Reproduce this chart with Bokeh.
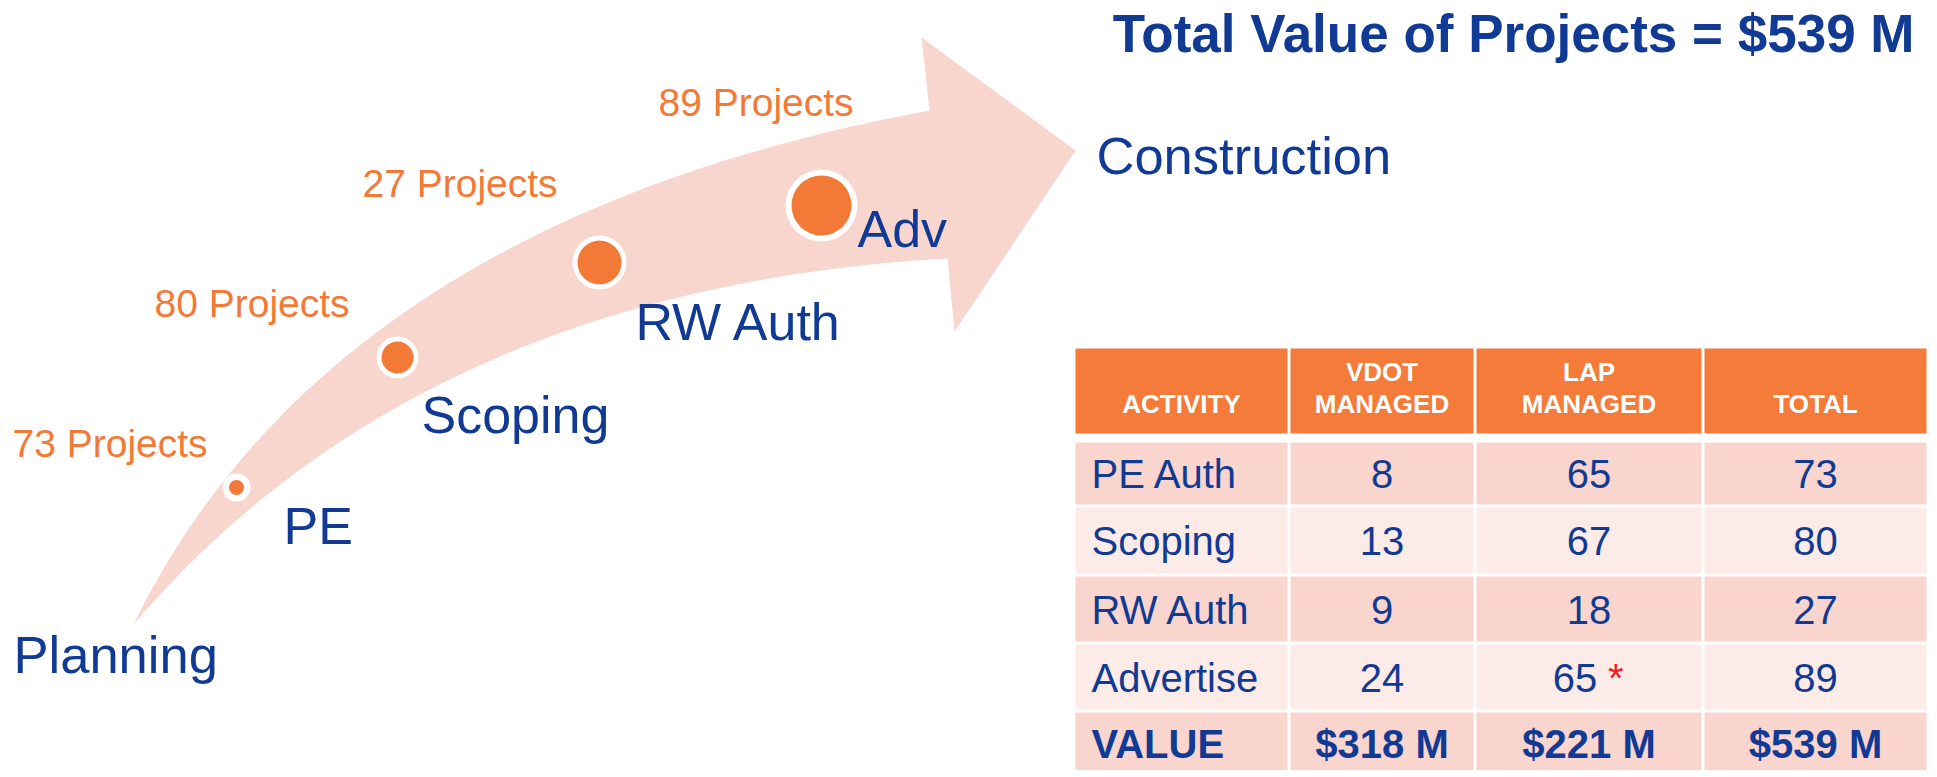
import numpy as np
from bokeh.plotting import figure
from bokeh.models import Range1d
from bokeh.core.properties import value
from bokeh.embed import file_html
from bokeh.resources import INLINE

# ---------------- data ----------------
stages = ["PE", "Scoping", "RW Auth", "Adv"]
stage_projects = [73, 80, 27, 89]
start_label = "Planning"
end_label = "Construction"

activities = ["PE Auth", "Scoping", "RW Auth", "Advertise"]
vdot_managed = [8, 13, 9, 24]
lap_managed = [65, 67, 18, 65]
total_projects = [73, 80, 27, 89]
lap_footnote = [False, False, False, True]
value_row_label = "VALUE"
values_m = [318, 221, 539]          # VDOT, LAP, TOTAL  ($ millions)
header_lines = [["ACTIVITY"], ["VDOT", "MANAGED"], ["LAP", "MANAGED"], ["TOTAL"]]

# ---------------- style / layout ----------------
BLUE = "#113A94"
ORANGE = "#F27A36"
ARROW = "#F9D6CD"
HEAD = "#F47B3A"
DARK = "#F9D5CD"
LIGHT = "#FCEBE7"
RED = "#EE1C24"
FONT = value("Liberation Sans")

W, H = 1930, 770
p = figure(width=W, height=H, x_range=Range1d(0, W), y_range=Range1d(H, 0),
           output_backend="svg", toolbar_location=None, min_border=0,
           x_axis_location=None, y_axis_location=None, background_fill_color="white",
           border_fill_color="white")
p.grid.visible = False
p.outline_line_color = None


def qbez(p0, p1, p2, n=90):
    t = np.linspace(0, 1, n)[:, None]
    return (1 - t) ** 2 * np.array(p0) + 2 * (1 - t) * t * np.array(p1) + t ** 2 * np.array(p2)


# ---------------- arrow ----------------
upper = qbez((133, 624), (330, 221), (929, 110))
lower = qbez((133, 624), (420, 288), (947, 258))
head_x = [921, 1075, 954]
head_y = [37, 150, 331]
ax = list(upper[:, 0]) + head_x + list(lower[::-1, 0])
ay = list(upper[:, 1]) + head_y + list(lower[::-1, 1])
p.patch(ax, ay, fill_color=ARROW, line_color=None)

# stage markers
circle_x = [236, 397, 599, 821]
circle_y = [487, 357, 262, 205]
ring_r = [14, 21, 27, 36]
dot_r = [7.5, 16, 22, 30]
p.circle(x=circle_x, y=circle_y, radius=ring_r, fill_color="white", line_color=None)
p.circle(x=circle_x, y=circle_y, radius=dot_r, fill_color=ORANGE, line_color=None)

stage_lx = [283, 421, 635, 857]
stage_ly = [525, 414, 321, 228]
p.text(x=stage_lx, y=stage_ly, text=stages, text_font=FONT, text_font_size="52px",
       text_color=BLUE, text_baseline="middle", text_align="left")

proj_lx = [12, 154, 362, 658]
proj_ly = [443, 303, 183, 102]
p.text(x=proj_lx, y=proj_ly, text=[f"{n} Projects" for n in stage_projects], text_font=FONT,
       text_font_size="39px", text_color=ORANGE, text_baseline="middle", text_align="left")

p.text(x=[13, 1096], y=[654, 155], text=[start_label, end_label], text_font=FONT,
       text_font_size="52.5px", text_color=BLUE, text_baseline="middle", text_align="left")

# title
p.text(x=[1914], y=[33], text=[f"Total Value of Projects = ${values_m[2]} M"], text_font=FONT,
       text_font_size="53px", text_font_style="bold", text_color=BLUE,
       text_baseline="middle", text_align="right")

# ---------------- table ----------------
col_bounds = [(1075, 1287), (1290, 1473), (1476, 1701), (1704, 1926)]
head_bounds = (348, 433)
row_bounds = [(442, 504), (507, 573), (576, 641), (644, 709), (712, 777)]
row_fill = [DARK, LIGHT, DARK, LIGHT, DARK]

ql, qr, qt, qb, qc = [], [], [], [], []
for (l, r) in col_bounds:
    ql.append(l); qr.append(r); qt.append(head_bounds[0]); qb.append(head_bounds[1]); qc.append(HEAD)
    for (t, b), c in zip(row_bounds, row_fill):
        ql.append(l); qr.append(r); qt.append(t); qb.append(b); qc.append(c)
p.quad(left=ql, right=qr, top=qt, bottom=qb, fill_color=qc, line_color=None)

col_cx = [(l + r) / 2 for l, r in col_bounds]
row_cy = [(t + b) / 2 + 0.5 for t, b in row_bounds]
row_cy[-1] = 743

hx, hy, ht = [], [], []
for cx, lines in zip(col_cx, header_lines):
    ys = [403] if len(lines) == 1 else [371, 403]
    for yy, s in zip(ys, lines):
        hx.append(cx); hy.append(yy); ht.append(s)
p.text(x=hx, y=hy, text=ht, text_font=FONT, text_font_size="26px", text_font_style="bold",
       text_color="white", text_baseline="middle", text_align="center")

p.text(x=[1091] * 4, y=row_cy[:4], text=activities, text_font=FONT, text_font_size="40px",
       text_color=BLUE, text_baseline="middle", text_align="left")
p.text(x=[col_cx[1]] * 4, y=row_cy[:4], text=[str(v) for v in vdot_managed], text_font=FONT,
       text_font_size="40px", text_color=BLUE, text_baseline="middle", text_align="center")
lap_x = [col_cx[2] - 14 if f else col_cx[2] for f in lap_footnote]
p.text(x=lap_x, y=row_cy[:4], text=[str(v) for v in lap_managed], text_font=FONT,
       text_font_size="40px", text_color=BLUE, text_baseline="middle", text_align="center")
fx = [lx + 33 for lx, f in zip(lap_x, lap_footnote) if f]
fy = [cy for cy, f in zip(row_cy, lap_footnote) if f]
p.text(x=fx, y=fy, text=["*"] * len(fx), text_font=FONT, text_font_size="40px",
       text_color=RED, text_baseline="middle", text_align="left")
p.text(x=[col_cx[3]] * 4, y=row_cy[:4], text=[str(v) for v in total_projects], text_font=FONT,
       text_font_size="40px", text_color=BLUE, text_baseline="middle", text_align="center")

p.text(x=[1091], y=[row_cy[4]], text=[value_row_label], text_font=FONT, text_font_size="40px",
       text_font_style="bold", text_color=BLUE, text_baseline="middle", text_align="left")
p.text(x=col_cx[1:], y=[row_cy[4]] * 3, text=[f"${v} M" for v in values_m], text_font=FONT,
       text_font_size="40px", text_font_style="bold", text_color=BLUE,
       text_baseline="middle", text_align="center")

open("out.html", "w").write(file_html(p, INLINE))
